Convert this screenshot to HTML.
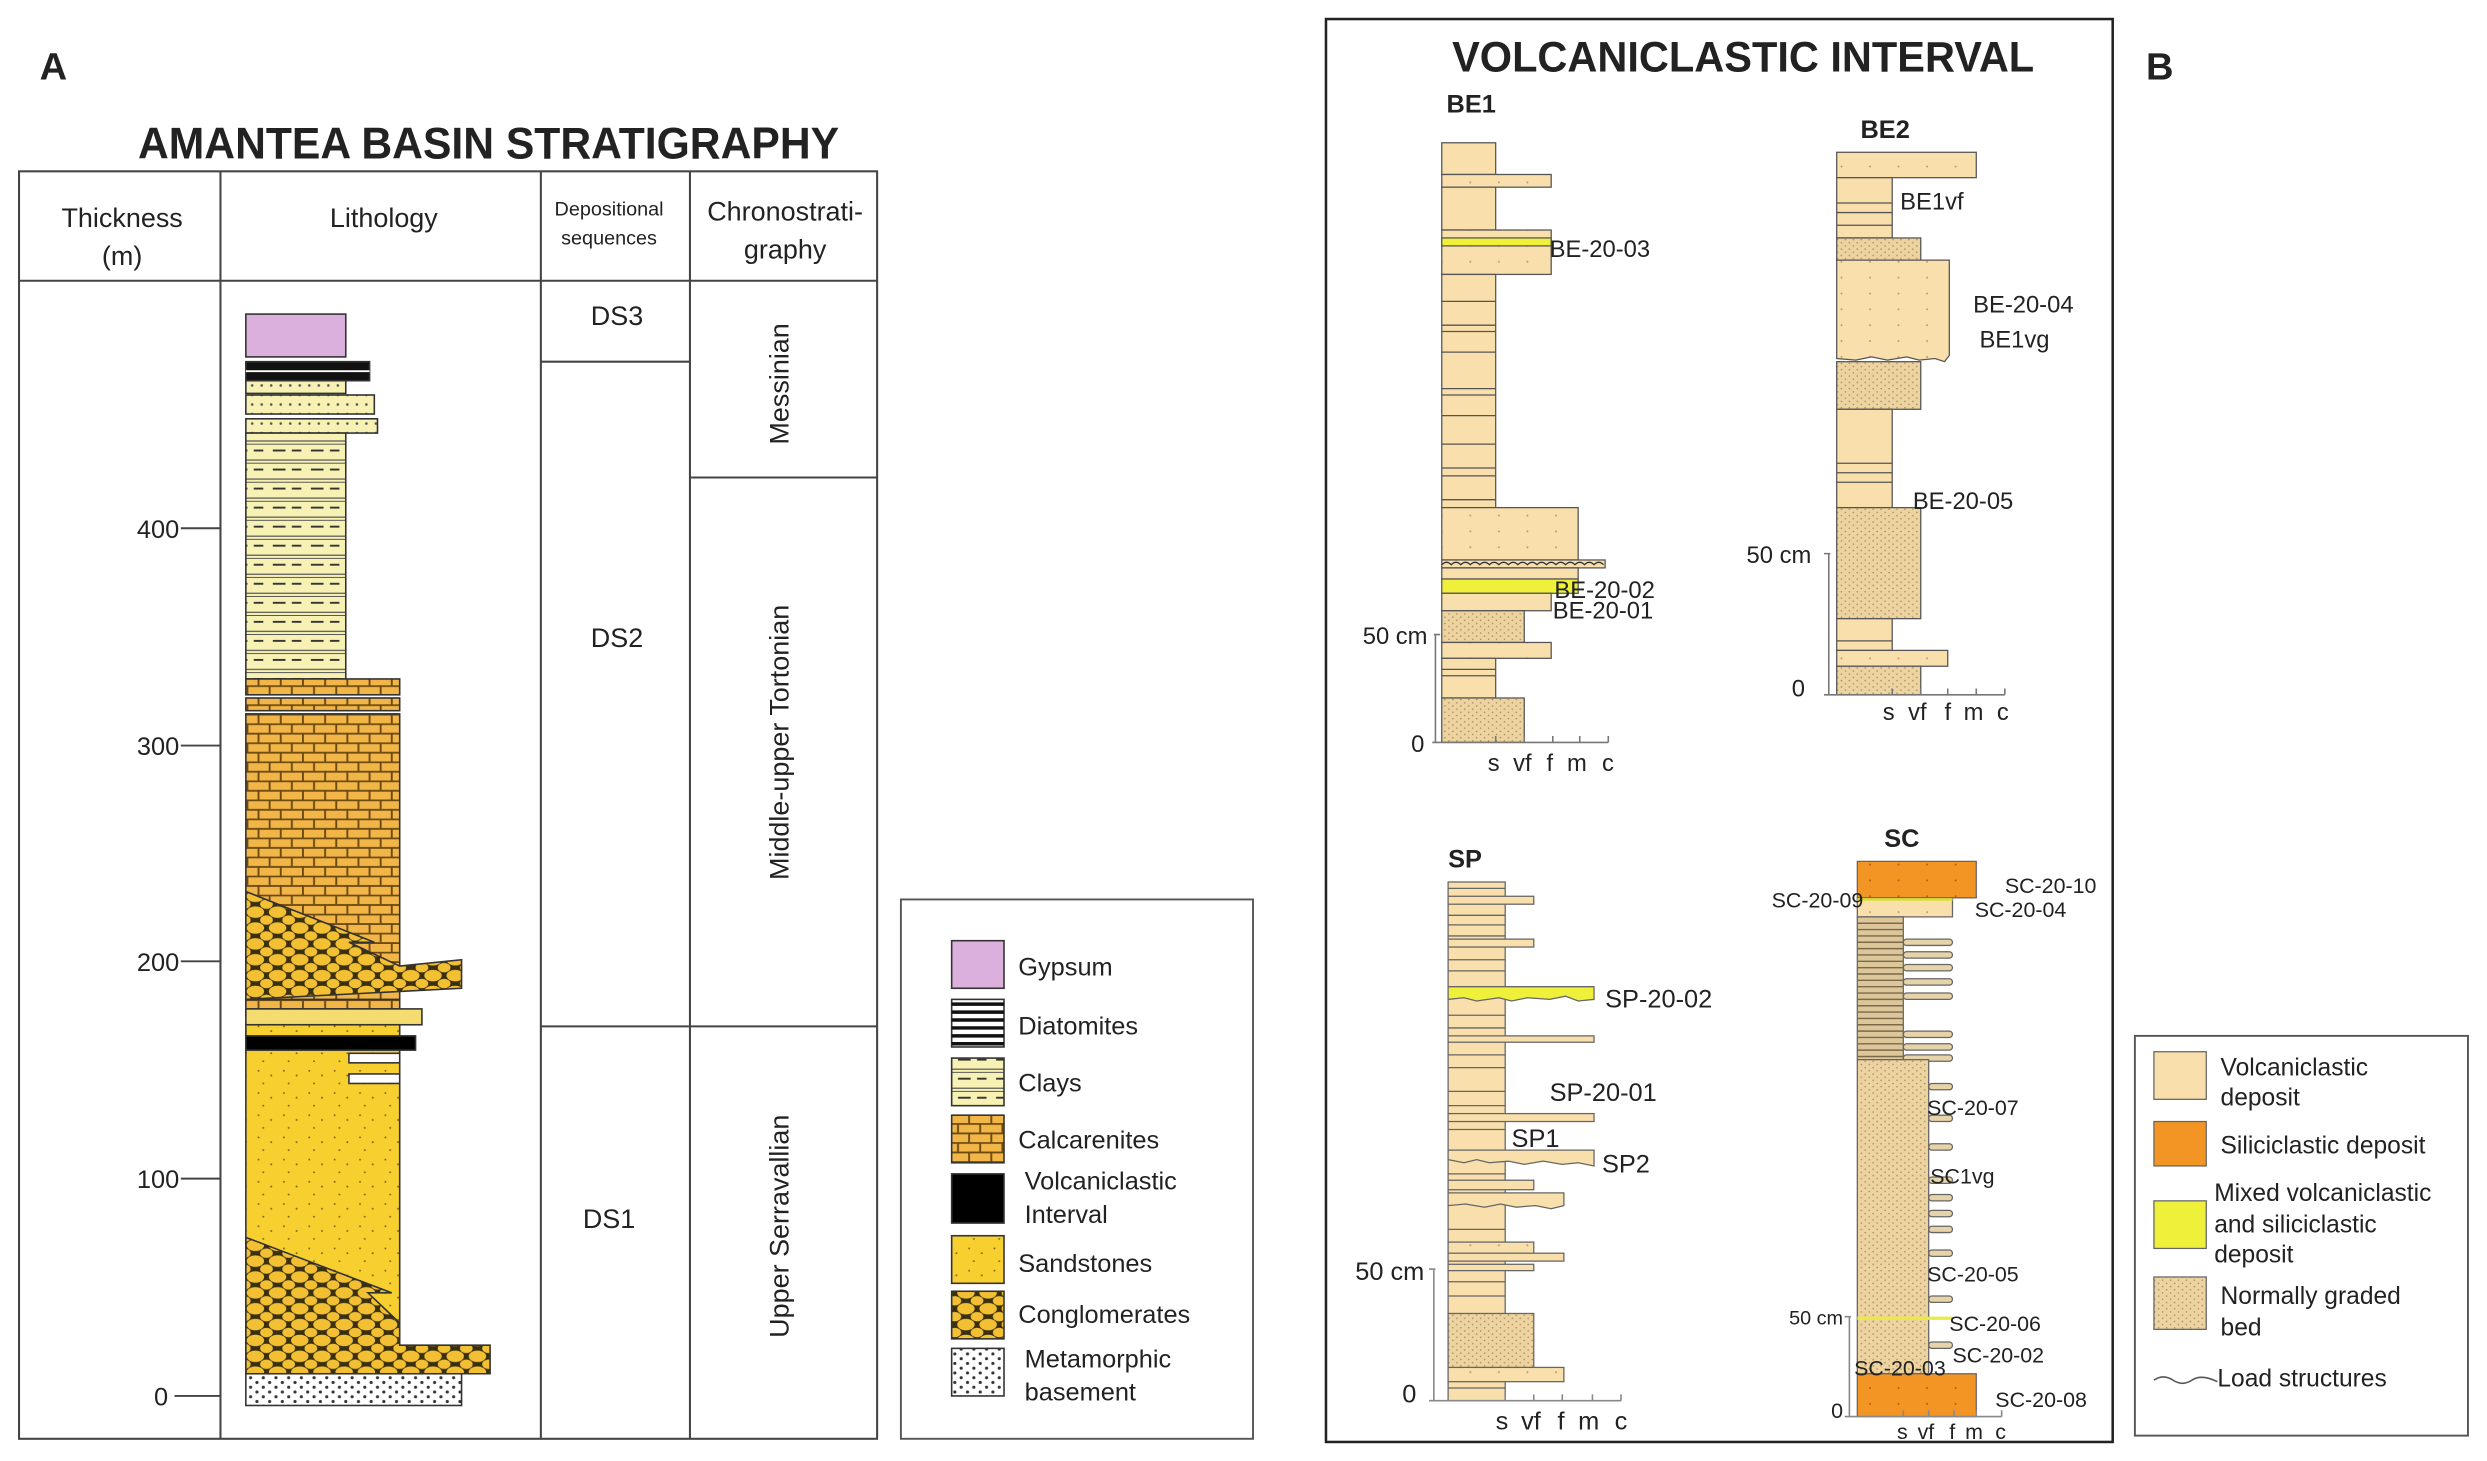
<!DOCTYPE html>
<html><head><meta charset="utf-8"><style>
html,body{margin:0;padding:0;background:#fff;}
svg{display:block;}
text{font-family:"Liberation Sans",sans-serif;fill:#222;}
</style></head><body>
<svg width="2487" height="1461" viewBox="0 0 1568 921" preserveAspectRatio="none" xmlns="http://www.w3.org/2000/svg">
<defs>
<pattern id="clay" width="24" height="12" patternUnits="userSpaceOnUse">
<rect width="24" height="12" fill="#f7f2b4"/><line x1="0" y1="2" x2="24" y2="2" stroke="#555" stroke-width="0.8"/><line x1="0" y1="4" x2="24" y2="4" stroke="#555" stroke-width="0.6"/><line x1="4" y1="8" x2="12" y2="8" stroke="#333" stroke-width="1.2"/><line x1="16" y1="8" x2="22" y2="8" stroke="#333" stroke-width="1.2"/></pattern>
<pattern id="brick" width="14" height="12" patternUnits="userSpaceOnUse">
<rect width="14" height="12" fill="#f2b548"/><line x1="0" y1="0.5" x2="14" y2="0.5" stroke="#6b4a10" stroke-width="1.2"/><line x1="0" y1="6.5" x2="14" y2="6.5" stroke="#6b4a10" stroke-width="1.2"/><line x1="2" y1="0" x2="2" y2="6" stroke="#6b4a10" stroke-width="1.2"/><line x1="9" y1="6" x2="9" y2="12" stroke="#6b4a10" stroke-width="1.2"/></pattern>
<pattern id="cong" width="14" height="10" patternUnits="userSpaceOnUse">
<rect width="14" height="10" fill="#3a3010"/><ellipse cx="7" cy="5" rx="5.5" ry="3.6" fill="#f2c032"/><ellipse cx="0" cy="0" rx="4" ry="3" fill="#f2c032"/><ellipse cx="14" cy="0" rx="4" ry="3" fill="#f2c032"/><ellipse cx="0" cy="10" rx="4" ry="3" fill="#f2c032"/><ellipse cx="14" cy="10" rx="4" ry="3" fill="#f2c032"/></pattern>
<pattern id="sand" width="16" height="14" patternUnits="userSpaceOnUse">
<rect width="16" height="14" fill="#f7d030"/><circle cx="3" cy="3" r="0.6" fill="#7a6418"/><circle cx="11" cy="6" r="0.6" fill="#7a6418"/><circle cx="6" cy="11" r="0.6" fill="#7a6418"/></pattern>
<pattern id="meta" width="8" height="6" patternUnits="userSpaceOnUse">
<rect width="8" height="6" fill="#fff"/><circle cx="2" cy="1.5" r="1" fill="#333"/><circle cx="6" cy="4.5" r="1" fill="#333"/></pattern>
<pattern id="grad" width="5" height="4" patternUnits="userSpaceOnUse">
<rect width="5" height="4" fill="#ecd3a0"/><circle cx="1" cy="1" r="0.5" fill="#a88a5a"/><circle cx="3.5" cy="3" r="0.5" fill="#a88a5a"/></pattern>
<pattern id="beig" width="18" height="10" patternUnits="userSpaceOnUse">
<rect width="18" height="10" fill="#f8dfab"/><circle cx="9" cy="5" r="0.6" fill="#b89a6a"/></pattern>
<pattern id="dotclay" width="6" height="6" patternUnits="userSpaceOnUse">
<rect width="6" height="6" fill="#f7f2b4"/><circle cx="3" cy="3" r="0.8" fill="#555"/></pattern>
<pattern id="osil" width="18" height="10" patternUnits="userSpaceOnUse">
<rect width="18" height="10" fill="#f39524"/><circle cx="9" cy="5" r="0.6" fill="#a85a10"/></pattern>
</defs>

<!-- Panel A -->
<text x="25" y="50" font-size="24" font-weight="bold" fill="#000">A</text>
<text x="308" y="100" font-size="28" font-weight="bold" text-anchor="middle" textLength="442" lengthAdjust="spacingAndGlyphs" fill="#000">AMANTEA BASIN STRATIGRAPHY</text>
<g stroke="#444" stroke-width="1.3" fill="none">
<rect x="12" y="108" width="541" height="799"/>
<line x1="12" y1="177" x2="553" y2="177"/>
<line x1="139" y1="108" x2="139" y2="907"/>
<line x1="341" y1="108" x2="341" y2="907"/>
<line x1="435" y1="108" x2="435" y2="907"/>
<line x1="341" y1="228" x2="435" y2="228"/>
<line x1="341" y1="647" x2="553" y2="647"/>
<line x1="435" y1="301" x2="553" y2="301"/>
</g>
<g font-size="17" text-anchor="middle">
<text x="77" y="143">Thickness</text><text x="77" y="167">(m)</text>
<text x="242" y="143">Lithology</text>
<text x="384" y="136" font-size="12.5">Depositional</text><text x="384" y="154" font-size="12.5">sequences</text>
<text x="495" y="139">Chronostrati-</text><text x="495" y="163">graphy</text>
<text x="389" y="205">DS3</text><text x="389" y="408">DS2</text><text x="384" y="774">DS1</text>
<text transform="translate(497,242) rotate(-90)">Messinian</text>
<text transform="translate(497,468) rotate(-90)">Middle-upper Tortonian</text>
<text transform="translate(497,773) rotate(-90)">Upper Serravallian</text>
</g>
<g font-size="16" text-anchor="end">
<text x="113" y="339">400</text><text x="113" y="476">300</text><text x="113" y="612">200</text><text x="113" y="749">100</text><text x="106" y="886">0</text>
</g>
<g stroke="#444" stroke-width="1.2">
<line x1="114" y1="333" x2="139" y2="333"/><line x1="114" y1="470" x2="139" y2="470"/><line x1="114" y1="606" x2="139" y2="606"/><line x1="114" y1="743" x2="139" y2="743"/><line x1="110" y1="880" x2="139" y2="880"/>
</g>
<!-- lithology column -->
<g stroke="#333" stroke-width="1">
<rect x="155" y="198" width="63" height="27" fill="#dcb0dc"/>
<path d="M155 228 h78 v12 h-78z" fill="#111"/>
<line x1="155" y1="234" x2="233" y2="234" stroke="#fff" stroke-width="1.2"/>
<rect x="155" y="240" width="63" height="8" fill="url(#dotclay)"/>
<rect x="155" y="249" width="81" height="12" fill="url(#dotclay)"/>
<rect x="155" y="264" width="83" height="9" fill="url(#dotclay)"/>
<rect x="155" y="273" width="63" height="155" fill="url(#clay)"/>
<rect x="155" y="428" width="97" height="10" fill="url(#brick)"/>
<rect x="155" y="440" width="97" height="8" fill="url(#brick)"/>
<rect x="155" y="450" width="97" height="190" fill="url(#brick)"/>
<path d="M155 562 L236 594 L220 594 L252 609 L291 605 L291 623 L155 630 Z" fill="url(#cong)"/>
<rect x="155" y="630" width="97" height="6" fill="url(#brick)"/>
<rect x="155" y="636" width="111" height="10" fill="#f4dc70"/>
<rect x="155" y="646" width="97" height="216" fill="url(#sand)"/>
<rect x="155" y="653" width="107" height="9" fill="#000"/>
<rect x="220" y="664" width="32" height="6" fill="#fff"/>
<rect x="220" y="677" width="32" height="6" fill="#fff"/>
<path d="M155 780 L247 815 L232 815 L252 834 L252 848 L309 848 L309 866 L155 866 Z" fill="url(#cong)"/>
<rect x="155" y="866" width="136" height="20" fill="url(#meta)"/>
</g>

<!-- Legend A -->
<rect x="568" y="567" width="222" height="340" fill="none" stroke="#555" stroke-width="1.2"/>
<g stroke="#333" stroke-width="1">
<rect x="600" y="593" width="33" height="30" fill="#dcb0dc"/>
<rect x="600" y="630" width="33" height="30" fill="#fff"/>
<g stroke="#111" stroke-width="2.2"><line x1="600" y1="633" x2="633" y2="633"/><line x1="600" y1="638" x2="633" y2="638"/><line x1="600" y1="643" x2="633" y2="643"/><line x1="600" y1="648" x2="633" y2="648"/><line x1="600" y1="653" x2="633" y2="653"/><line x1="600" y1="658" x2="633" y2="658"/></g>
<rect x="600" y="667" width="33" height="30" fill="url(#clay)"/>
<rect x="600" y="703" width="33" height="30" fill="url(#brick)"/>
<rect x="600" y="740" width="33" height="31" fill="#000"/>
<rect x="600" y="779" width="33" height="30" fill="url(#sand)"/>
<rect x="600" y="814" width="33" height="30" fill="url(#cong)"/>
<rect x="600" y="850" width="33" height="30" fill="url(#meta)"/>
</g>
<g font-size="16">
<text x="642" y="615">Gypsum</text><text x="642" y="652">Diatomites</text><text x="642" y="688">Clays</text><text x="642" y="724">Calcarenites</text>
<text x="646" y="750">Volcaniclastic</text><text x="646" y="771">Interval</text><text x="642" y="802">Sandstones</text><text x="642" y="834">Conglomerates</text>
<text x="646" y="862">Metamorphic</text><text x="646" y="883">basement</text>
</g>

<!-- Panel B -->
<rect x="836" y="12" width="496" height="897" fill="none" stroke="#222" stroke-width="1.6"/>
<text x="1353" y="50" font-size="24" font-weight="bold" fill="#000">B</text>
<text x="1099" y="45" font-size="27" font-weight="bold" text-anchor="middle" textLength="367" lengthAdjust="spacingAndGlyphs" fill="#000">VOLCANICLASTIC INTERVAL</text>
<g font-size="16" font-weight="bold" fill="#000">
<text x="912" y="71">BE1</text><text x="1173" y="87">BE2</text><text x="913" y="547">SP</text><text x="1188" y="534">SC</text>
</g>

<!-- BE1 -->
<g stroke="#555" stroke-width="0.8">
<rect x="909" y="90" width="34" height="20" fill="#f8dfab"/>
<rect x="909" y="110" width="69" height="8" fill="url(#beig)"/>
<rect x="909" y="118" width="34" height="27" fill="#f8dfab"/>
<rect x="909" y="145" width="69" height="28" fill="url(#beig)"/>
<rect x="909" y="150" width="69" height="5" fill="#eef03a"/>
<rect x="909" y="173" width="34" height="147" fill="#f8dfab"/>
<g stroke="#555"><line x1="909" y1="190" x2="943" y2="190"/><line x1="909" y1="205" x2="943" y2="205"/><line x1="909" y1="209" x2="943" y2="209"/><line x1="909" y1="222" x2="943" y2="222"/><line x1="909" y1="245" x2="943" y2="245"/><line x1="909" y1="249" x2="943" y2="249"/><line x1="909" y1="262" x2="943" y2="262"/><line x1="909" y1="280" x2="943" y2="280"/><line x1="909" y1="295" x2="943" y2="295"/><line x1="909" y1="300" x2="943" y2="300"/><line x1="909" y1="315" x2="943" y2="315"/></g>
<rect x="909" y="320" width="86" height="33" fill="url(#beig)"/>
<rect x="909" y="353" width="103" height="5" fill="#f8dfab"/>
<path d="M909 356 q3 -3 6 0 q3 -3 6 0 q3 -3 6 0 q3 -3 6 0 q3 -3 6 0 q3 -3 6 0 q3 -3 6 0 q3 -3 6 0 q3 -3 6 0 q3 -3 6 0 q3 -3 6 0 q3 -3 6 0 q3 -3 6 0 q3 -3 6 0 q3 -3 6 0 q3 -3 6 0 q3 -3 6 0" fill="none" stroke="#333"/>
<rect x="909" y="358" width="86" height="7" fill="#f8dfab"/>
<rect x="909" y="365" width="86" height="9" fill="#eef03a"/>
<rect x="909" y="374" width="69" height="11" fill="#f8dfab"/>
<rect x="909" y="385" width="52" height="20" fill="url(#grad)"/>
<rect x="909" y="405" width="69" height="10" fill="url(#beig)"/>
<rect x="909" y="415" width="34" height="25" fill="#f8dfab"/>
<line x1="909" y1="422" x2="943" y2="422"/><line x1="909" y1="426" x2="943" y2="426"/>
<rect x="909" y="440" width="52" height="28" fill="url(#grad)"/>
</g>
<g stroke="#777" stroke-width="1" fill="none">
<path d="M904 400 h4 M905 400 v68 M903 468 h111"/>
<path d="M943 468 v-4 M961 468 v-4 M979 468 v-4 M996 468 v-4 M1014 468 v-4"/>
</g>
<g font-size="15"><text x="977" y="162">BE-20-03</text><text x="980" y="377">BE-20-02</text><text x="979" y="390">BE-20-01</text>
<text x="900" y="406" text-anchor="end">50 cm</text><text x="898" y="474" text-anchor="end">0</text>
<text x="938" y="486">s</text><text x="954" y="486">vf</text><text x="975" y="486">f</text><text x="988" y="486">m</text><text x="1010" y="486">c</text></g>

<!-- BE2 -->
<g stroke="#555" stroke-width="0.8">
<rect x="1158" y="96" width="88" height="16" fill="url(#beig)"/>
<rect x="1158" y="112" width="35" height="38" fill="#f8dfab"/>
<line x1="1158" y1="128" x2="1193" y2="128"/><line x1="1158" y1="134" x2="1193" y2="134"/><line x1="1158" y1="142" x2="1193" y2="142"/>
<rect x="1158" y="150" width="53" height="14" fill="url(#grad)"/>
<path d="M1158 164 h71 v60 l-3 4 l-6 -2 l-10 1 l-8 -2 l-12 2 l-10 -2 l-10 2 l-12 -1 Z" fill="url(#beig)"/>
<rect x="1158" y="228" width="53" height="30" fill="url(#grad)"/>
<rect x="1158" y="258" width="35" height="62" fill="#f8dfab"/>
<line x1="1158" y1="292" x2="1193" y2="292"/><line x1="1158" y1="298" x2="1193" y2="298"/><line x1="1158" y1="304" x2="1193" y2="304"/>
<rect x="1158" y="320" width="53" height="70" fill="url(#grad)"/>
<rect x="1158" y="390" width="35" height="20" fill="#f8dfab"/>
<line x1="1158" y1="404" x2="1193" y2="404"/>
<rect x="1158" y="410" width="70" height="10" fill="url(#beig)"/>
<rect x="1158" y="420" width="53" height="18" fill="url(#grad)"/>
</g>
<g stroke="#777" stroke-width="1" fill="none">
<path d="M1150 349 h4 M1153 349 v89 M1150 438 h114"/>
<path d="M1193 438 v-4 M1211 438 v-4 M1228 438 v-4 M1246 438 v-4 M1264 438 v-4"/>
</g>
<g font-size="15"><text x="1198" y="132">BE1vf</text><text x="1244" y="197">BE-20-04</text><text x="1248" y="219">BE1vg</text><text x="1206" y="321">BE-20-05</text>
<text x="1142" y="355" text-anchor="end">50 cm</text><text x="1138" y="439" text-anchor="end">0</text>
<text x="1187" y="454">s</text><text x="1203" y="454">vf</text><text x="1226" y="454">f</text><text x="1238" y="454">m</text><text x="1259" y="454">c</text></g>

<!-- SP -->
<g stroke="#666" stroke-width="0.8">
<rect x="913" y="556" width="36" height="327" fill="#f8dfab"/>
<g stroke="#666"><line x1="913" y1="560" x2="949" y2="560"/><line x1="913" y1="577" x2="949" y2="577"/><line x1="913" y1="583" x2="949" y2="583"/><line x1="913" y1="590" x2="949" y2="590"/><line x1="913" y1="605" x2="949" y2="605"/><line x1="913" y1="612" x2="949" y2="612"/><line x1="913" y1="640" x2="949" y2="640"/><line x1="913" y1="648" x2="949" y2="648"/><line x1="913" y1="665" x2="949" y2="665"/><line x1="913" y1="673" x2="949" y2="673"/><line x1="913" y1="688" x2="949" y2="688"/><line x1="913" y1="697" x2="949" y2="697"/><line x1="913" y1="712" x2="949" y2="712"/><line x1="913" y1="740" x2="949" y2="740"/><line x1="913" y1="775" x2="949" y2="775"/><line x1="913" y1="808" x2="949" y2="808"/><line x1="913" y1="817" x2="949" y2="817"/><line x1="913" y1="875" x2="949" y2="875"/></g>
<rect x="913" y="565" width="54" height="5" fill="#f8dfab"/>
<rect x="913" y="592" width="54" height="5" fill="#f8dfab"/>
<path d="M913 622 h92 v8 l-10 1 l-8 -3 l-10 2 l-14 -1 l-10 2 l-8 -2 l-14 2 l-8 -2 l-10 1 Z" fill="#eef03a"/>
<rect x="913" y="653" width="92" height="4" fill="#f8dfab"/>
<rect x="913" y="702" width="92" height="5" fill="#f8dfab"/>
<path d="M913 725 h92 v10 l-10 -2 l-10 1 l-12 -2 l-12 2 l-10 -2 l-12 1 l-8 -2 l-8 2 l-10 -2 Z" fill="#f8dfab"/>
<rect x="913" y="744" width="54" height="6" fill="#f8dfab"/>
<path d="M913 752 h73 v8 l-8 2 l-10 -2 l-12 1 l-10 -2 l-10 2 l-12 -2 l-11 1 Z" fill="#f8dfab"/>
<rect x="913" y="783" width="54" height="10" fill="url(#beig)"/>
<rect x="913" y="790" width="73" height="5" fill="#f8dfab"/>
<rect x="913" y="797" width="54" height="4" fill="#f8dfab"/>
<rect x="913" y="828" width="54" height="35" fill="url(#grad)"/>
<rect x="913" y="862" width="73" height="9" fill="url(#beig)"/>
</g>
<g stroke="#888" stroke-width="1" fill="none">
<path d="M901 800 h4 M904 800 v83 M901 883 h121"/>
<path d="M949 883 v-4 M967 883 v-4 M985 883 v-4 M1004 883 v-4 M1022 883 v-4"/>
</g>
<g font-size="16"><text x="1012" y="635">SP-20-02</text><text x="977" y="694">SP-20-01</text><text x="953" y="723">SP1</text><text x="1010" y="739">SP2</text>
<text x="898" y="807" text-anchor="end">50 cm</text><text x="893" y="884" text-anchor="end">0</text>
<text x="943" y="901">s</text><text x="959" y="901">vf</text><text x="982" y="901">f</text><text x="995" y="901">m</text><text x="1018" y="901">c</text></g>

<!-- SC -->
<g stroke="#666" stroke-width="0.8">
<rect x="1171" y="543" width="75" height="23" fill="url(#osil)"/>
<rect x="1171" y="566" width="60" height="12" fill="url(#beig)"/>
<line x1="1171" y1="567" x2="1231" y2="567" stroke="#d8e030" stroke-width="1.6"/>
<rect x="1171" y="578" width="29" height="90" fill="#ddc79a"/>
<g stroke="#7a6a4a" stroke-width="0.9"><line x1="1171" y1="582" x2="1200" y2="582"/><line x1="1171" y1="586" x2="1200" y2="586"/><line x1="1171" y1="590" x2="1200" y2="590"/><line x1="1171" y1="594" x2="1200" y2="594"/><line x1="1171" y1="598" x2="1200" y2="598"/><line x1="1171" y1="602" x2="1200" y2="602"/><line x1="1171" y1="606" x2="1200" y2="606"/><line x1="1171" y1="610" x2="1200" y2="610"/><line x1="1171" y1="614" x2="1200" y2="614"/><line x1="1171" y1="618" x2="1200" y2="618"/><line x1="1171" y1="622" x2="1200" y2="622"/><line x1="1171" y1="626" x2="1200" y2="626"/><line x1="1171" y1="630" x2="1200" y2="630"/><line x1="1171" y1="634" x2="1200" y2="634"/><line x1="1171" y1="638" x2="1200" y2="638"/><line x1="1171" y1="642" x2="1200" y2="642"/><line x1="1171" y1="646" x2="1200" y2="646"/><line x1="1171" y1="650" x2="1200" y2="650"/><line x1="1171" y1="654" x2="1200" y2="654"/><line x1="1171" y1="658" x2="1200" y2="658"/><line x1="1171" y1="662" x2="1200" y2="662"/><line x1="1171" y1="666" x2="1200" y2="666"/></g>
<g fill="#e6d4a8"><rect x="1200" y="592" width="31" height="4" rx="2"/><rect x="1200" y="600" width="31" height="4" rx="2"/><rect x="1200" y="608" width="31" height="4" rx="2"/><rect x="1200" y="617" width="31" height="4" rx="2"/><rect x="1200" y="626" width="31" height="4" rx="2"/><rect x="1200" y="650" width="31" height="4" rx="2"/><rect x="1200" y="658" width="31" height="4" rx="2"/><rect x="1200" y="665" width="31" height="4" rx="2"/>
<rect x="1216" y="683" width="15" height="4" rx="2"/><rect x="1216" y="703" width="15" height="4" rx="2"/><rect x="1216" y="721" width="15" height="4" rx="2"/><rect x="1216" y="742" width="15" height="4" rx="2"/><rect x="1216" y="753" width="15" height="4" rx="2"/><rect x="1216" y="763" width="15" height="4" rx="2"/><rect x="1216" y="773" width="15" height="4" rx="2"/><rect x="1216" y="788" width="15" height="4" rx="2"/><rect x="1216" y="817" width="15" height="4" rx="2"/><rect x="1216" y="846" width="15" height="4" rx="2"/></g>
<rect x="1171" y="668" width="45" height="198" fill="url(#grad)"/>
<line x1="1171" y1="831" x2="1231" y2="831" stroke="#e8ec40" stroke-width="2"/>
<rect x="1171" y="866" width="75" height="27" fill="url(#osil)"/>
</g>
<g stroke="#888" stroke-width="1" fill="none">
<path d="M1163 830 h4 M1166 830 v63 M1163 893 h99"/>
<path d="M1200 893 v-4 M1216 893 v-4 M1232 893 v-4 M1246 893 v-4 M1262 893 v-4"/>
</g>
<g font-size="13.5"><text x="1264" y="563">SC-20-10</text><text x="1117" y="572">SC-20-09</text><text x="1245" y="578">SC-20-04</text><text x="1215" y="703">SC-20-07</text><text x="1217" y="746">SC1vg</text><text x="1215" y="808">SC-20-05</text><text x="1229" y="839">SC-20-06</text><text x="1231" y="859">SC-20-02</text><text x="1169" y="867">SC-20-03</text><text x="1258" y="887">SC-20-08</text>
<text x="1162" y="835" text-anchor="end" font-size="12.5">50 cm</text><text x="1162" y="894" text-anchor="end">0</text>
<text x="1196" y="907">s</text><text x="1209" y="907">vf</text><text x="1229" y="907">f</text><text x="1239" y="907">m</text><text x="1258" y="907">c</text></g>

<!-- Legend B -->
<rect x="1346" y="653" width="210" height="252" fill="none" stroke="#555" stroke-width="1.2"/>
<g stroke="#666" stroke-width="0.8">
<rect x="1358" y="663" width="33" height="30" fill="#f8dfab"/>
<rect x="1358" y="707" width="33" height="28" fill="#f39524"/>
<rect x="1358" y="757" width="33" height="30" fill="#eef03a"/>
<rect x="1358" y="805" width="33" height="33" fill="url(#grad)"/>
</g>
<path d="M1358 870 q6 -4 12 0 q6 4 12 0 q6 -4 16 1" fill="none" stroke="#555" stroke-width="1"/>
<g font-size="15.5">
<text x="1400" y="678">Volcaniclastic</text><text x="1400" y="697">deposit</text>
<text x="1400" y="727">Siliciclastic deposit</text>
<text x="1396" y="757">Mixed volcaniclastic</text><text x="1396" y="777">and siliciclastic</text><text x="1396" y="796">deposit</text>
<text x="1400" y="822">Normally graded</text><text x="1400" y="842">bed</text>
<text x="1398" y="874">Load structures</text>
</g>
</svg>
</body></html>
